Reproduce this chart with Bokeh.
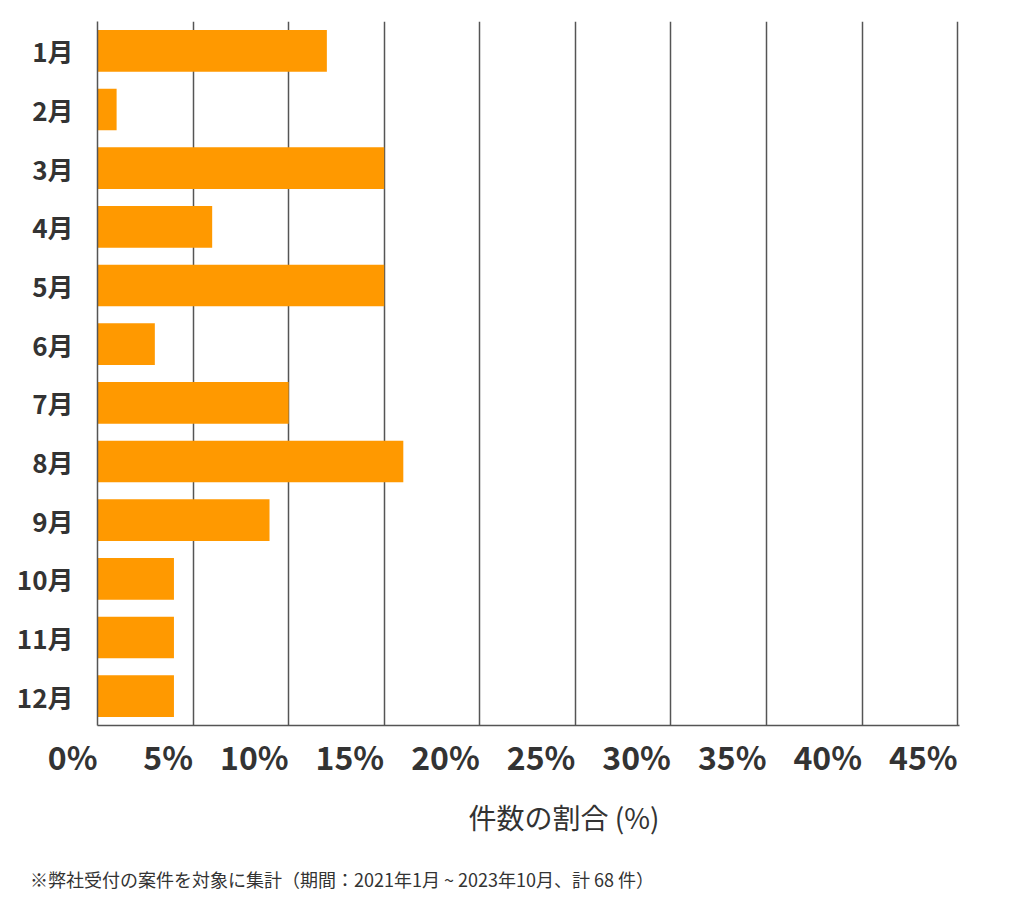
from bokeh.plotting import figure
from bokeh.layouts import column
from bokeh.models import ColumnDataSource, FactorRange, Range1d, FixedTicker, Title, Div
from bokeh.embed import file_html
from bokeh.resources import INLINE

# data (percent of cases per month)
months = ["1月", "2月", "3月", "4月", "5月", "6月", "7月", "8月", "9月", "10月", "11月", "12月"]
shares = [12, 1, 15, 6, 15, 3, 10, 16, 9, 4, 4, 4]
x_ticks = [0, 5, 10, 15, 20, 25, 30, 35, 40, 45]
x_title = "件数の割合 (%)"
note = "※弊社受付の案件を対象に集計（期間：2021年1月 ~ 2023年10月、計 68 件）"

FONT = "Noto Sans CJK JP"
TEXT = "#333333"
LINE = "#555555"
BAR = "#FF9900"

source = ColumnDataSource(data=dict(month=months, share=shares))

fig = figure(width=1016, height=840, output_backend="svg", toolbar_location=None,
             y_range=FactorRange(factors=months[::-1], range_padding=0),
             x_range=Range1d(0, 45.1),
             min_border_left=97, min_border_right=57, min_border_top=21, min_border_bottom=115)
fig.outline_line_color = None

fig.hbar(y="month", right="share", left=0, height=0.71, source=source,
         fill_color=BAR, line_color=None)

# x axis (tiny angle -> labels end at the tick, as in the reference)
fig.xaxis.ticker = FixedTicker(ticks=x_ticks)
fig.xaxis.major_label_overrides = {t: "%d%%" % t for t in x_ticks}
fig.xaxis.major_label_orientation = 0.0001
fig.xaxis.major_label_text_font = FONT
fig.xaxis.major_label_text_font_style = "bold"
fig.xaxis.major_label_text_font_size = "32px"
fig.xaxis.major_label_text_color = TEXT
fig.xaxis.major_label_standoff = 24
fig.xaxis.major_tick_line_color = None
fig.xaxis.minor_tick_line_color = None
fig.xaxis.axis_line_color = LINE
fig.xaxis.axis_line_width = 1.5

# y axis
fig.yaxis.major_label_text_font = FONT
fig.yaxis.major_label_text_font_style = "bold"
fig.yaxis.major_label_text_font_size = "26px"
fig.yaxis.major_label_text_color = TEXT
fig.yaxis.major_label_standoff = 18
fig.yaxis.major_tick_line_color = None
fig.yaxis.axis_line_color = LINE
fig.yaxis.axis_line_width = 1.5

fig.xgrid.ticker = FixedTicker(ticks=x_ticks)
fig.xgrid.grid_line_color = LINE
fig.xgrid.grid_line_width = 1.5
fig.ygrid.grid_line_color = None

# axis title
fig.add_layout(Title(text=x_title, align="left", offset=371, standoff=-19,
                     text_font=FONT, text_font_size="28px", text_font_style="normal",
                     text_color=TEXT), "below")

# footnote
foot = Div(text=note, width=980, height=50, margin=(26, 0, 0, 30),
           styles={"font-family": FONT, "font-size": "18px", "color": TEXT,
                   "line-height": "27px", "white-space": "nowrap"})

p = column(fig, foot, spacing=0)

open("out.html", "w").write(file_html(p, INLINE))
